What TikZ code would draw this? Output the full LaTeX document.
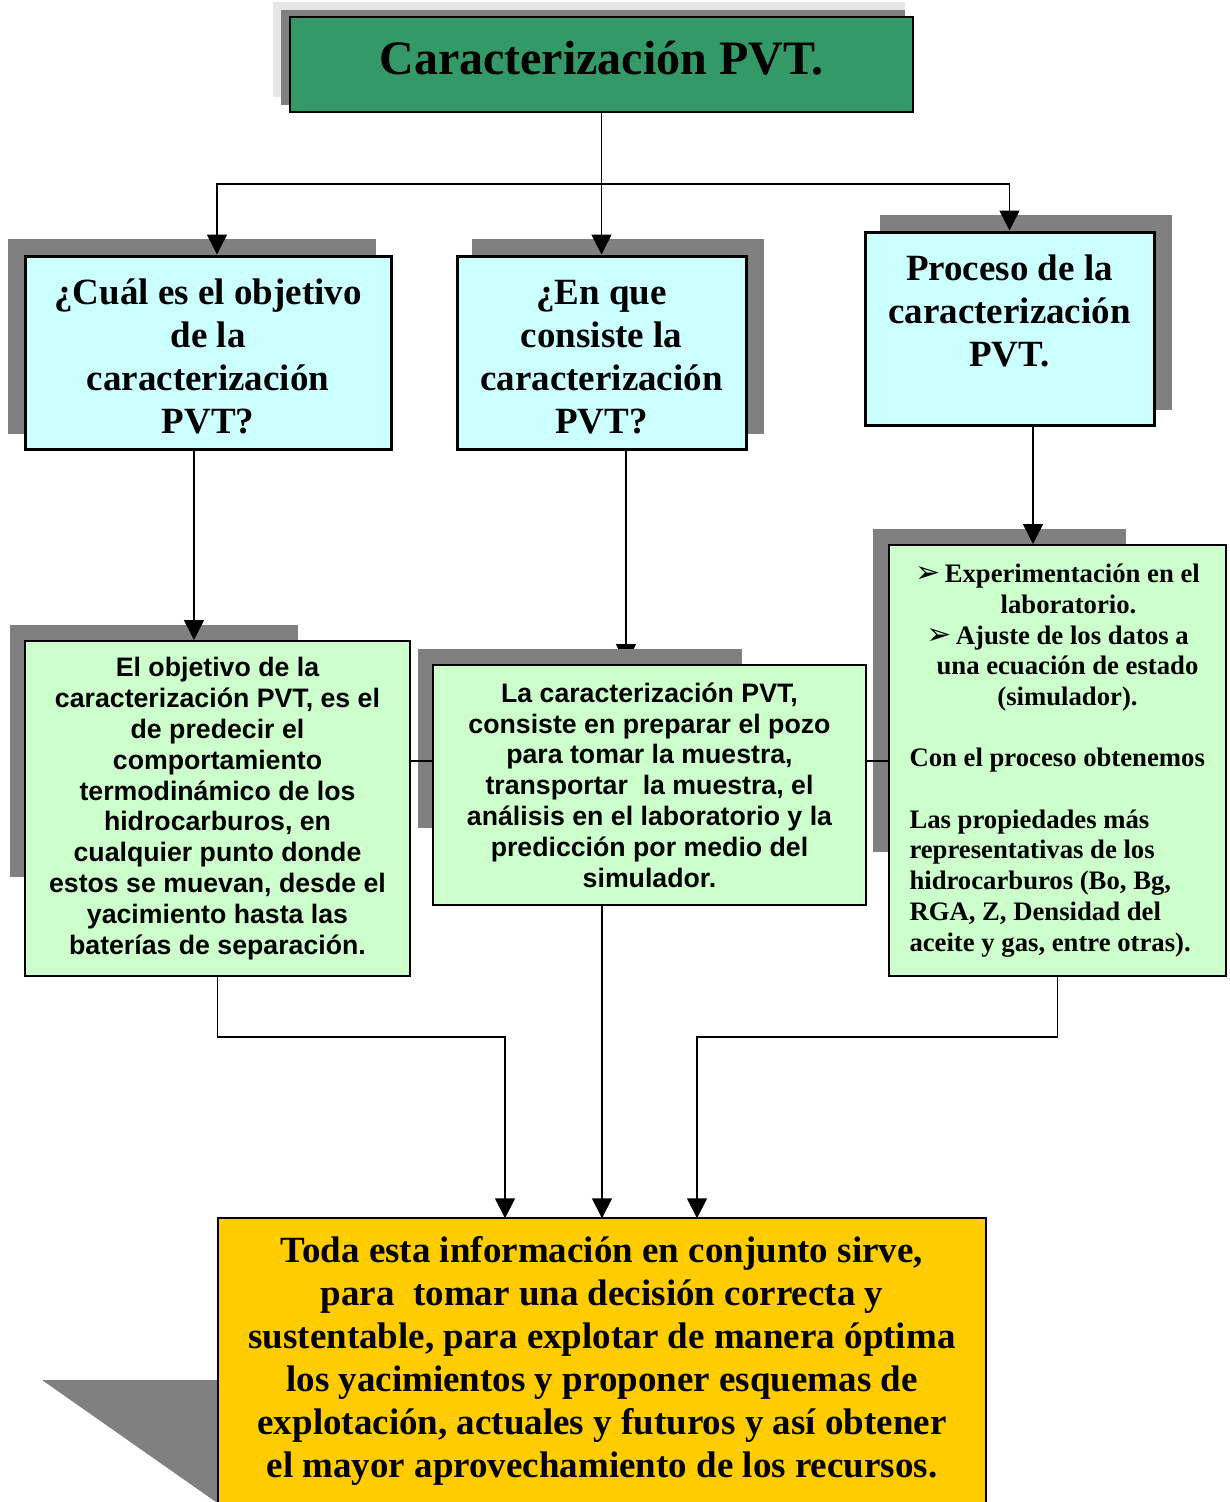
\documentclass[tikz,border=0pt]{standalone}
\usepackage{fontspec}
\setmainfont{Liberation Serif}
\setsansfont{Liberation Sans}
\newfontfamily\symfont{DejaVu Sans}
\usepackage{tikz}
\usetikzlibrary{arrows.meta,positioning}
\definecolor{titlegreen}{HTML}{339966}
\definecolor{qcyan}{HTML}{CCFFFF}
\definecolor{agreen}{HTML}{CCFFCC}
\definecolor{forange}{HTML}{FFCC00}
\definecolor{shadowgray}{HTML}{808080}
\definecolor{lightgray}{HTML}{E6E6E6}
\pgfdeclarelayer{linelayer}
\pgfdeclarelayer{shadowlayer}
\pgfsetlayers{linelayer,shadowlayer,main}

\begin{document}
\begin{tikzpicture}[x=1pt, y=-1pt,
  titlebox/.style={draw, line width=2.5pt, fill=titlegreen, minimum width=623pt, minimum height=95pt,
    font=\fontsize{48}{55}\selectfont\bfseries},
  qbox/.style={draw, line width=3pt, fill=qcyan, minimum width=289pt, minimum height=193pt, align=center,
    font=\fontsize{37}{43}\selectfont\bfseries},
  abox/.style={draw, line width=2pt, fill=agreen, align=center,
    font=\fontsize{26.7}{30.8}\selectfont\sffamily\bfseries},
  rbox/.style={draw, line width=2pt, fill=agreen, align=center,
    font=\fontsize{26.7}{30.7}\selectfont\bfseries},
  fbox/.style={fill=forange, minimum width=768pt, minimum height=285pt, align=center,
    font=\fontsize{37}{43}\selectfont\bfseries},
  link/.style={line width=1.5pt},
  arr/.style={line width=1.5pt, -{Triangle[width=20pt,length=20pt]}},
  shade/.style={fill=shadowgray}]

\useasboundingbox (0,0) rectangle (1229,1502);

\node[titlebox] (T) at (601.5,64.5) {\raisebox{13pt}{Caracterización PVT.}};

\node[qbox] (Q1) at (208,352.5) [minimum width=366pt] {\rule{0pt}{34pt}¿Cuál es el objetivo\\de la\\caracterización\\PVT?};
\node[qbox] (Q2) at (601.5,352.5) {\rule{0pt}{34pt}¿En que\\consiste la\\caracterización\\PVT?};
\node[qbox] (Q3) at (1009.5,328.5) {\rule{0pt}{32pt}Proceso de la\\caracterización\\PVT.\\\mbox{}};

\node[abox] (A1) at (217.5,808.5) [minimum width=385pt, minimum height=335pt] {El objetivo de la\\caracterización PVT, es el\\de predecir el\\comportamiento\\termodinámico de los\\hidrocarburos, en\\cualquier punto donde\\estos se muevan, desde el\\yacimiento hasta las\\baterías de separación.};
\node[abox] (A2) at (649.5,785) [minimum width=433pt, minimum height=240pt] {La caracterización PVT,\\consiste en preparar el pozo\\para tomar la muestra,\\transportar\ \ la muestra, el\\análisis en el laboratorio y la\\predicción por medio del\\simulador.};
\node[rbox] (A3) at (1057.5,760.5) [minimum width=337pt, minimum height=431pt] {{\symfont\fontsize{30}{30}\selectfont ➢}\,Experimentación en el\\
  \hspace*{22pt}laboratorio.\\
  {\symfont\fontsize{30}{30}\selectfont ➢}\,Ajuste de los datos a\\
  \hspace*{20pt}una ecuación de estado\\
  \hspace*{20pt}(simulador).\\
  \mbox{}\\
  \makebox[296pt][l]{Con el proceso obtenemos}\\
  \mbox{}\\
  \makebox[296pt][l]{Las propiedades más}\\
  \makebox[296pt][l]{representativas de los}\\
  \makebox[296pt][l]{hidrocarburos (Bo, Bg,}\\
  \makebox[296pt][l]{RGA, Z, Densidad del}\\
  \makebox[296pt][l]{aceite y gas, entre otras).}};

\node[fbox] (F) at (602,1361) {Toda esta información en conjunto sirve,\\para\ \ tomar una decisión correcta y\\sustentable, para explotar de manera óptima\\los yacimientos y proponer esquemas de\\explotación, actuales y futuros y así obtener\\el mayor aprovechamiento de los recursos.};
\draw[line width=2pt] (F.south west) -- (F.north west) -- (F.north east) -- (F.south east);

\begin{pgfonlayer}{shadowlayer}
\fill[lightgray] (273,2) rectangle (905,97);
\fill[shade] (281,10) rectangle (905,105);
\fill[shade] (8,239) rectangle (376,434);
\fill[shade] (472,239) rectangle (764,434);
\fill[shade] (880,215) rectangle (1172,410);
\fill[shade] (10,625) rectangle (298,877);
\fill[shade] (418,649) rectangle (742,828);
\fill[shade] (873,529) rectangle (1126,852);
\fill[shade] (42,1380) -- (230,1380) -- (230,1502) -- (216,1502) -- cycle;
\end{pgfonlayer}

\coordinate (J) at (601.5,184);
\coordinate (L) at (0,761);
\coordinate (B) at (0,1037);

\draw[link] (T) -- (J);
\draw[arr] (J) -| ([xshift=9pt]Q1.north);
\draw[arr] (J) -- (Q2);
\draw[arr] (J) -| (Q3.north);

\draw[arr] ([xshift=-14pt]Q1.south) -- ([xshift=-14pt]Q1.south |- A1.north);
\begin{pgfonlayer}{linelayer}
\draw[arr] ([xshift=24.5pt]Q2.south) -- ([xshift=24.5pt]Q2.south |- A2.north);
\end{pgfonlayer}
\draw[arr] ([xshift=23.5pt]Q3.south) -- ([xshift=23.5pt]Q3.south |- A3.north);

\draw[link] (A1.east |- L) -- (A2.west |- L);
\draw[link] (A2.east |- L) -- (A3.west |- L);

\draw[arr] (A1) -- (A1.south |- B) -| ([xshift=-97pt]F.north);
\draw[arr] (A2.south -| F.north) -- (F.north);
\draw[arr] (A3) -- (A3.south |- B) -| ([xshift=95pt]F.north);
\end{tikzpicture}
\end{document}
